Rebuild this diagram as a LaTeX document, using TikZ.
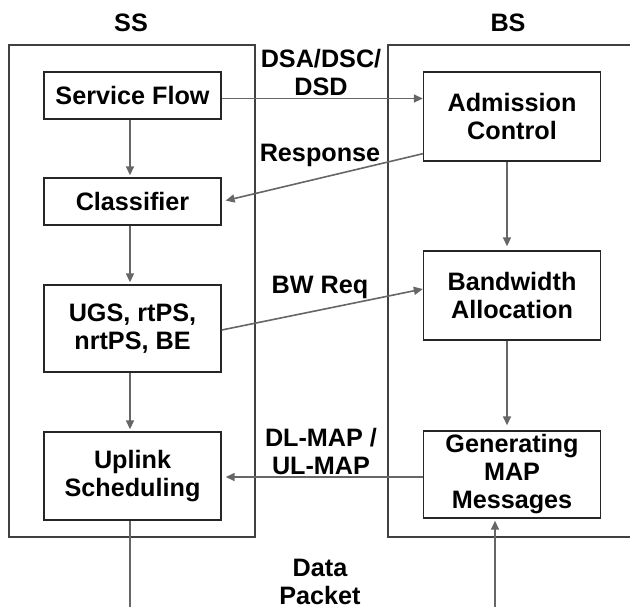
\documentclass[tikz,border=0pt]{standalone}
\usepackage{fontspec}
\setmainfont{Liberation Sans}
\usetikzlibrary{arrows.meta,positioning}
\tikzset{
	block/.style={
			draw=black!85, line width=0.7pt, fill=white, align=center,
			minimum width=88.5pt, inner sep=0pt,
			font=\bfseries\fontsize{12.6}{14}\selectfont},
	msg/.style={align=center, inner sep=0pt, font=\bfseries\fontsize{12.6}{14}\selectfont},
	station/.style={draw=black!75, line width=0.7pt},
	flow/.style={draw=black!60, line width=0.8pt, -{Triangle[length=4.5pt,width=4pt]}},
	wire/.style={draw=black!60, line width=0.8pt}
}

\begin{document}
\begin{tikzpicture}[x=0.5pt, y=-0.5pt]
		\useasboundingbox (0, 0) rectangle (630, 607);

		% the two stations
		\draw [station]	(9, 45) rectangle (255, 537);
		\draw [station]	(630, 45) -- (388, 45) -- (388, 537) -- (630, 537);
		\node [msg] (ss) at (131, 23) {SS};
		\node [msg] (bs) at (508, 23) {BS};

		% SS side
		\node [block, minimum height=23.5pt] (sf)  at (132.5, 95.5)  {Service Flow};
		\node [block, minimum height=23.5pt] (cls) at (132.5, 201.5) {Classifier};
		\node [block, minimum height=43.5pt] (qos) at (132.5, 328.5) {UGS, rtPS,\\nrtPS, BE};
		\node [block, minimum height=44pt]   (ul)  at (132.5, 476)   {Uplink\\Scheduling};

		% BS side
		\node [block, minimum height=44.5pt] (adm) at (512, 116.5) {Admission\\Control};
		\node [block, minimum height=44.5pt] (bwa) at (512, 295.5) {Bandwidth\\Allocation};
		\node [block, minimum height=43.5pt] (gen) at (512, 474.5) {Generating\\MAP\\Messages};

		% messages between them
		\node [msg] (dsa)  at (321, 72)  {DSA/DSC/\\DSD};
		\node [msg] (resp) at (320, 155) {Response};
		\node [msg] (req)  at (320, 287) {BW Req};
		\node [msg] (map)  at (321, 451) {DL-MAP /\\UL-MAP};
		\node [msg] (pkt)  at (320, 582) {Data\\Packet};

		\coordinate (pkt out) at (130, 607);
		\coordinate (pkt in)  at (495, 607);

		\draw [flow, shorten >=1pt]	([xshift=-1.25pt]sf.south) to ([xshift=-1.25pt]cls.north);
		\draw [flow, shorten >=1pt]	([xshift=-1.25pt]cls.south) to ([xshift=-1.25pt]qos.north);
		\draw [flow, shorten >=1pt]	([xshift=-1.25pt]qos.south) to ([xshift=-1.25pt]ul.north);
		\draw [flow, shorten >=2pt]	([xshift=-2.5pt]adm.south) to ([xshift=-2.5pt]bwa.north);
		\draw [flow, shorten >=2.5pt]	([xshift=-2.5pt]bwa.south) to ([xshift=-2.5pt]gen.north);

		\draw [flow]	([yshift=-1.5pt]sf.east) to ([yshift=-1.5pt]sf.east -| adm.west);
		\draw [flow, shorten >=2pt]	([yshift=4pt]adm.south west) to (cls.east);
		\draw [flow]	([yshift=-0.75pt]qos.east) to ([yshift=3.25pt]bwa.west);
		\draw [flow, shorten >=2pt]	([yshift=-1.25pt]gen.west) to ([yshift=-1.25pt]gen.west -| ul.east);

		\draw [wire]	([xshift=-1.25pt]ul.south) to (pkt out);
		\draw [flow, shorten >=1pt]	(pkt in) to (pkt in |- gen.south);
	\end{tikzpicture}
\end{document}
